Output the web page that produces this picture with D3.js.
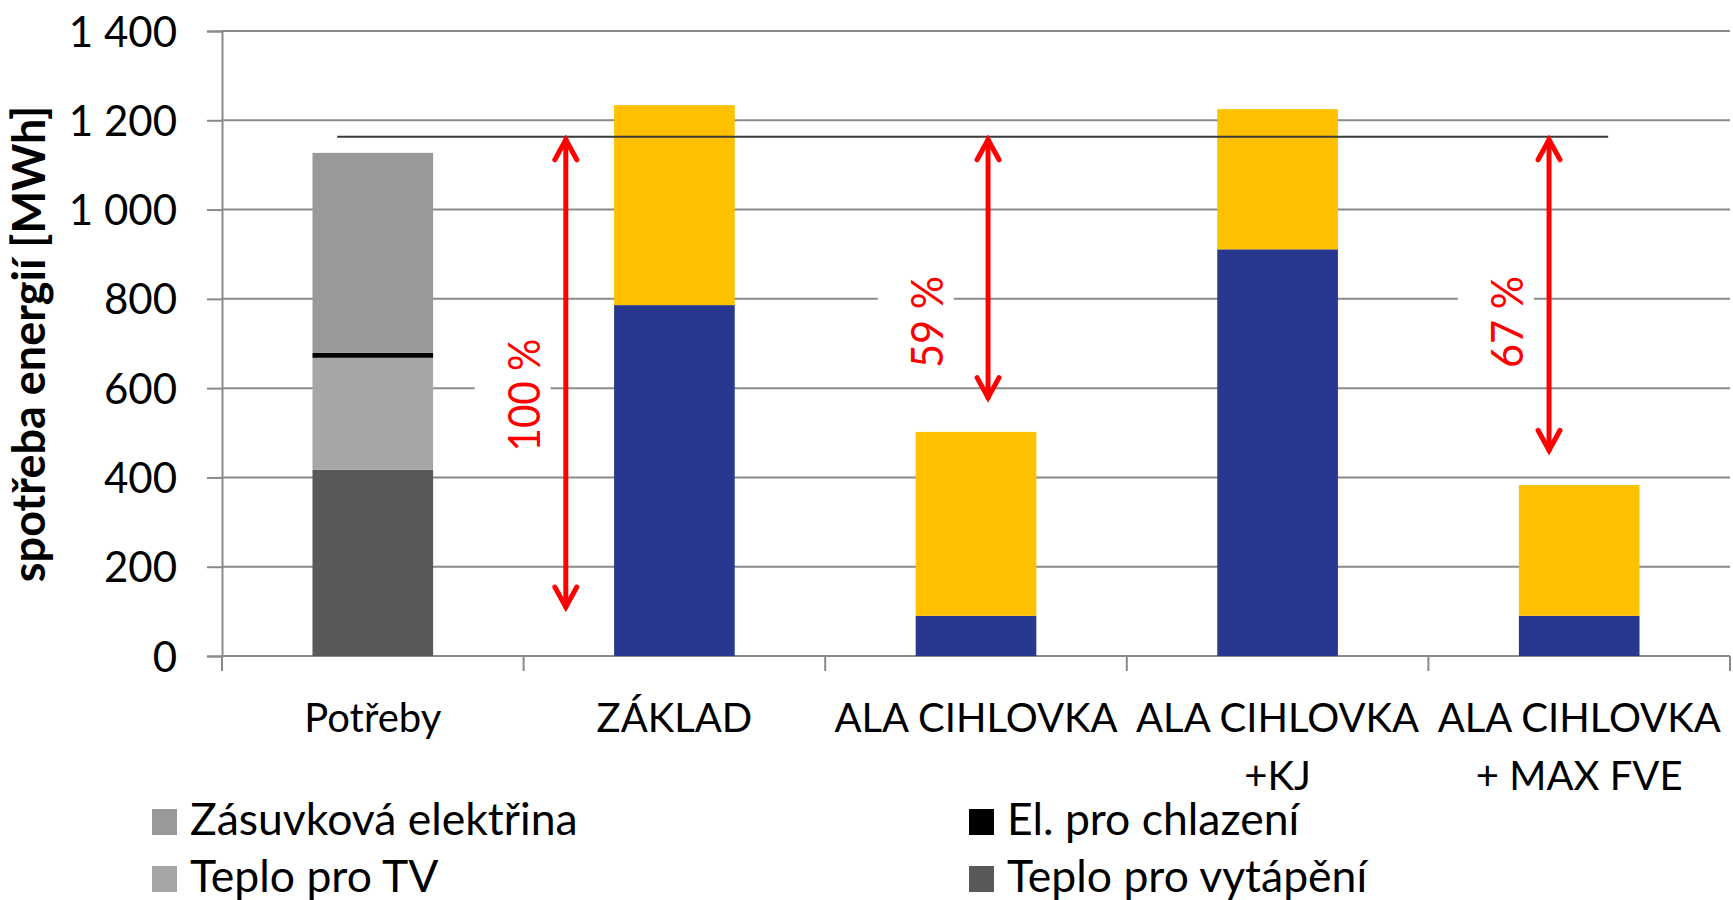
<!DOCTYPE html>
<html>
<head>
<meta charset="utf-8">
<script src="https://d3js.org/d3.v7.min.js"></script>
<style>
  body { margin: 0; background: #fff; }
  text { font-family: Lato, "Open Sans", sans-serif; }
</style>
</head>
<body>
<svg id="chart" width="1733" height="900"></svg>
<script>
// categories and their label lines
const categories = ["Potřeby", "ZÁKLAD", "ALA CIHLOVKA", "ALA CIHLOVKA +KJ", "ALA CIHLOVKA + MAX FVE"];
const catLines = [["Potřeby"], ["ZÁKLAD"], ["ALA CIHLOVKA"], ["ALA CIHLOVKA", "+KJ"], ["ALA CIHLOVKA", "+ MAX FVE"]];

// stacked series, bottom to top (MWh)
const teploVytapeni = [417, 0, 0, 0, 0];
const teploTV       = [251, 0, 0, 0, 0];
const elChlazeni    = [11, 0, 0, 0, 0];
const zasuvkova     = [448, 0, 0, 0, 0];
const modra         = [0, 786, 90, 911, 90];
const zluta         = [0, 448, 412, 314, 293];

const yTicks = [0, 200, 400, 600, 800, 1000, 1200, 1400];

// annotation: reference level and the arrows down from it
const refLevel = 1163;
const arrowLabels = ["100 %", "59 %", "67 %"];
const arrowEnds = [103, 572, 454];

const legendItems = ["Zásuvková elektřina", "El. pro chlazení", "Teplo pro TV", "Teplo pro vytápění"];

const seriesNames = ["vytapeni", "tv", "chlazeni", "zasuvkova", "modra", "zluta"];
const seriesVals = [teploVytapeni, teploTV, elChlazeni, zasuvkova, modra, zluta];
const colors = d3.scaleOrdinal()
  .domain(seriesNames)
  .range(["#595959", "#a6a6a6", "#000000", "#999999", "#27388e", "#ffc000"]);
const legendColors = ["#999999", "#000000", "#a6a6a6", "#595959"];

const svg = d3.select("#chart");
const plotL = 222, plotR = 1730, plotT = 31, plotB = 656;

const y = d3.scaleLinear().domain([0, 1400]).range([plotB, plotT]);
const x = d3.scaleBand().domain(categories).range([plotL, plotR])
  .paddingInner(0.6).paddingOuter(0.3);
const slot = d3.scaleLinear().domain([0, categories.length]).range([plotL, plotR]);

const rows = categories.map((c, i) => {
  const r = { cat: c };
  seriesNames.forEach((s, j) => r[s] = seriesVals[j][i]);
  return r;
});
const stacked = d3.stack().keys(seriesNames)(rows);

// gridlines
svg.append("g").selectAll("line").data(yTicks).join("line")
  .attr("x1", plotL).attr("x2", plotR)
  .attr("y1", d => y(d)).attr("y2", d => y(d))
  .attr("stroke", "#8a8a8a").attr("stroke-width", 2);

// y axis
const fmt = d3.formatLocale({ decimal: ",", thousands: " ", grouping: [3], currency: ["", ""] }).format(",d");
const yAxis = svg.append("g").attr("transform", `translate(${plotL},0)`)
  .call(d3.axisLeft(y).tickValues(yTicks).tickFormat(fmt).tickSize(15).tickPadding(30));
yAxis.select(".domain").attr("stroke", "#8a8a8a").attr("stroke-width", 2);
yAxis.selectAll(".tick line").attr("stroke", "#8a8a8a").attr("stroke-width", 2);
yAxis.selectAll(".tick text").attr("font-size", 42).attr("fill", "#000")
  .attr("font-family", "Lato, sans-serif").attr("dy", "0.36em");

// x axis line and ticks at band edges
svg.append("line").attr("x1", plotL).attr("x2", plotR).attr("y1", plotB).attr("y2", plotB)
  .attr("stroke", "#8a8a8a").attr("stroke-width", 2);
svg.append("g").selectAll("line").data(d3.range(categories.length + 1)).join("line")
  .attr("x1", d => slot(d)).attr("x2", d => slot(d))
  .attr("y1", plotB).attr("y2", plotB + 15)
  .attr("stroke", "#8a8a8a").attr("stroke-width", 2);

// category labels, one text per line
const catG = svg.append("g").selectAll("g").data(categories).join("g");
catG.each(function(c, i) {
  d3.select(this).selectAll("text").data(catLines[i]).join("text")
    .attr("text-anchor", "middle").attr("font-size", 40).attr("fill", "#000")
    .attr("x", x(c) + x.bandwidth() / 2)
    .attr("y", (d, k) => 732 + k * 58)
    .text(d => d);
});

// percentage labels with white boxes, sitting on the gridlines
const labelPos = [{ x: 1.0, y: 395 }, { x: 2.337, y: 322 }, { x: 4.26, y: 322 }];
const pct = svg.append("g").selectAll("g").data(arrowLabels).join("g")
  .attr("transform", (d, i) => `translate(${slot(labelPos[i].x)},${labelPos[i].y})`);
pct.append("rect")
  .attr("x", -49).attr("width", 76)
  .attr("y", (d, i) => i === 0 ? -70 : -60).attr("height", (d, i) => i === 0 ? 140 : 120)
  .attr("fill", "#fff");
pct.append("text")
  .attr("transform", "rotate(-90)")
  .attr("text-anchor", "middle")
  .attr("y", 16)
  .attr("font-family", "'Liberation Sans', Arial, sans-serif")
  .attr("font-size", 44).attr("fill", "#ff0000")
  .attr("textLength", (d, i) => i === 0 ? 113 : 92)
  .attr("lengthAdjust", "spacingAndGlyphs")
  .text(d => d);

// bars
svg.append("g").selectAll("g").data(stacked).join("g")
  .attr("fill", d => colors(d.key))
  .selectAll("rect").data(d => d.filter(p => p[1] > p[0])).join("rect")
  .attr("x", p => x(p.data.cat))
  .attr("width", x.bandwidth())
  .attr("y", p => y(p[1]))
  .attr("height", p => y(p[0]) - y(p[1]));

// reference line
svg.append("line")
  .attr("x1", slot(0.382)).attr("x2", slot(4.596))
  .attr("y1", y(refLevel)).attr("y2", y(refLevel))
  .attr("stroke", "#3a3a3a").attr("stroke-width", 2);

// double arrows
const arrowX = [1.14, 2.54, 4.40];
const arrows = svg.append("g").selectAll("g").data(arrowEnds).join("g")
  .attr("fill", "none").attr("stroke", "#ff0000").attr("stroke-width", 5)
  .attr("stroke-linecap", "round").attr("stroke-linejoin", "miter");
arrows.append("line")
  .attr("x1", (d, i) => slot(arrowX[i])).attr("x2", (d, i) => slot(arrowX[i]))
  .attr("y1", y(refLevel) + 3).attr("y2", d => y(d) - 3);
arrows.append("polyline")
  .attr("points", (d, i) => {
    const ax = slot(arrowX[i]), ay = y(refLevel) + 3;
    return `${ax - 11},${ay + 20} ${ax},${ay} ${ax + 11},${ay + 20}`;
  });
arrows.append("polyline")
  .attr("points", (d, i) => {
    const ax = slot(arrowX[i]), ay = y(d) - 3;
    return `${ax - 11},${ay - 20} ${ax},${ay} ${ax + 11},${ay - 20}`;
  });

// y axis title
svg.append("text")
  .attr("transform", "translate(45,344) rotate(-90)")
  .attr("text-anchor", "middle")
  .attr("font-weight", "bold").attr("font-size", 45).attr("fill", "#000")
  .text("spotřeba energií [MWh]");

// legend
const legPos = [{ x: 152, y: 835 }, { x: 969, y: 835 }, { x: 152, y: 892 }, { x: 969, y: 892 }];
const leg = svg.append("g").selectAll("g").data(legendItems).join("g")
  .attr("transform", (d, i) => `translate(${legPos[i].x},${legPos[i].y})`);
leg.append("rect").attr("x", 0).attr("y", -26).attr("width", 25).attr("height", 26)
  .attr("fill", (d, i) => legendColors[i]);
leg.append("text").attr("x", 38).attr("y", 0)
  .attr("font-size", 44.5).attr("fill", "#000")
  .text(d => d);
</script>
</body>
</html>
